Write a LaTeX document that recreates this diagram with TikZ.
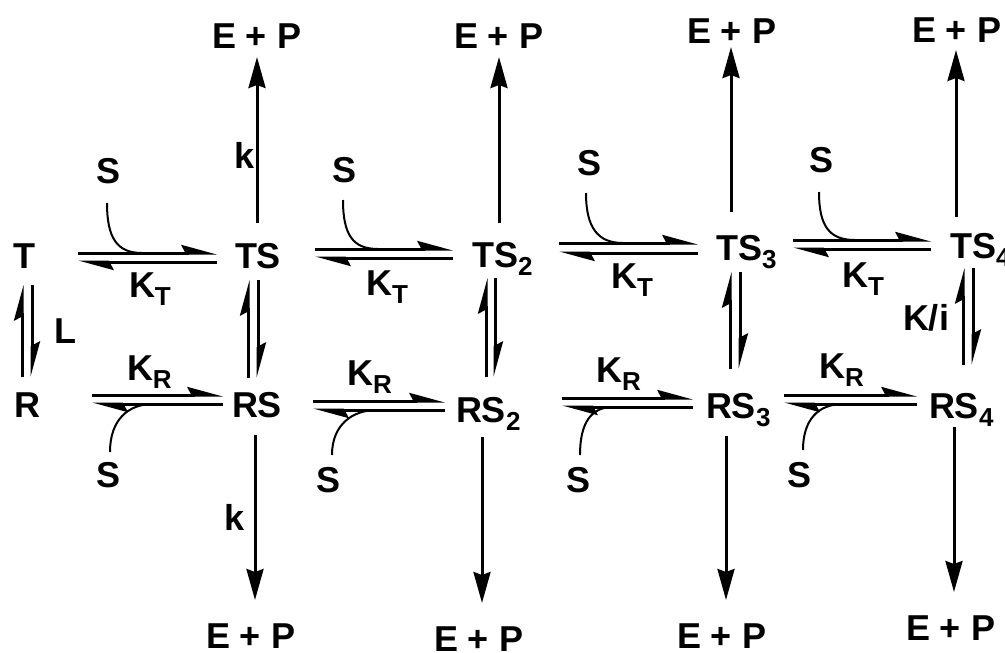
\documentclass[tikz,border=0pt]{standalone}
\usepackage{fontspec}
\setmainfont{Liberation Sans}
\usetikzlibrary{arrows.meta,calc}
\newcommand\mysub[1]{\raisebox{-8pt}{\fontsize{26}{30}\selectfont #1}}
\tikzset{
 lab/.style={inner sep=0pt, outer sep=0pt, text height=25pt, text depth=0pt, anchor=base west, font=\bfseries\fontsize{36}{40}\selectfont},
 prod/.style={line width=3pt, -{Stealth[length=31pt,width=17pt,inset=3pt]}},
 harp/.style={line width=3pt, -{Stealth[harpoon,length=30pt,width=16pt,inset=4pt]}},
 sarc/.style={line width=2pt},
}
\begin{document}
\begin{tikzpicture}[x=1pt,y=-1pt]
\useasboundingbox (0,0) rectangle (1005,653);
% species
\node[lab] (T) at (13,268) {T};
\node[lab] (TS) at (235,268) {TS};
\node[lab] (TS2) at (472,267) {TS\mysub{2}};
\node[lab] (TS3) at (716,260) {TS\mysub{3}};
\node[lab] (TS4) at (950,258) {TS\mysub{4}};
\node[lab] (R) at (14,417) {R};
\node[lab] (RS) at (232,417) {RS};
\node[lab] (RS2) at (456,422) {RS\mysub{2}};
\node[lab] (RS3) at (706,418) {RS\mysub{3}};
\node[lab] (RS4) at (929,418) {RS\mysub{4}};
% products
\node[lab] (EPt1) at (212,48) {E + P};
\node[lab] (EPt2) at (454,48) {E + P};
\node[lab] (EPt3) at (687,43) {E + P};
\node[lab] (EPt4) at (912,42) {E + P};
\node[lab] (EPb1) at (206,648) {E + P};
\node[lab] (EPb2) at (434,651) {E + P};
\node[lab] (EPb3) at (677,648) {E + P};
\node[lab] (EPb4) at (906,640) {E + P};
% labels
\node[lab] (k1) at (234,168) {k};
\node[lab] (k2) at (224,530) {k};
\node[lab] (L) at (54,343) {L};
\node[lab] (Ki) at (903,330) {K/i};
\node[lab] (KT1) at (129,297) {K\mysub{T}};
\node[lab] (KT2) at (366,295) {K\mysub{T}};
\node[lab] (KT3) at (611,288) {K\mysub{T}};
\node[lab] (KT4) at (842,287) {K\mysub{T}};
\node[lab] (KR1) at (127,380) {K\mysub{R}};
\node[lab] (KR2) at (347,385) {K\mysub{R}};
\node[lab] (KR3) at (596,382) {K\mysub{R}};
\node[lab] (KR4) at (819,378) {K\mysub{R}};
\node[lab] (S1) at (96,183) {S};
\node[lab] (S2) at (332,182) {S};
\node[lab] (S3) at (577,175) {S};
\node[lab] (S4) at (809,172) {S};
\node[lab] (S5) at (96,487) {S};
\node[lab] (S6) at (316,492) {S};
\node[lab] (S7) at (566,492) {S};
\node[lab] (S8) at (787,487) {S};
% horizontal equilibria, T row
\draw[harp] ($(T.base west)+(65,-15)$) -- ($(TS.base west)+(-18,-15)$);
\draw[harp] ($(TS.base west)+(-18,-6)$) -- ($(T.base west)+(65,-6)$);
\draw[harp] ($(TS.base west)+(80,-19)$) -- ($(TS2.base west)+(-19,-18)$);
\draw[harp] ($(TS2.base west)+(-19,-9)$) -- ($(TS.base west)+(80,-10)$);
\draw[harp] ($(TS2.base west)+(87,-24)$) -- ($(TS3.base west)+(-18,-17)$);
\draw[harp] ($(TS3.base west)+(-18,-7)$) -- ($(TS2.base west)+(87,-14)$);
\draw[harp] ($(TS3.base west)+(77,-20)$) -- ($(TS4.base west)+(-19,-18)$);
\draw[harp] ($(TS4.base west)+(-19,-9)$) -- ($(TS3.base west)+(77,-11)$);
% horizontal equilibria, R row
\draw[harp] ($(R.base west)+(78,-22)$) -- ($(RS.base west)+(-9,-22)$);
\draw[harp] ($(RS.base west)+(-9,-13)$) -- ($(R.base west)+(78,-13)$);
\draw[harp] ($(RS.base west)+(81,-16)$) -- ($(RS2.base west)+(-11,-21)$);
\draw[harp] ($(RS2.base west)+(-11,-12)$) -- ($(RS.base west)+(81,-7)$);
\draw[harp] ($(RS2.base west)+(106,-24)$) -- ($(RS3.base west)+(-13,-20)$);
\draw[harp] ($(RS3.base west)+(-13,-11)$) -- ($(RS2.base west)+(106,-15)$);
\draw[harp] ($(RS3.base west)+(78,-23)$) -- ($(RS4.base west)+(-12,-23)$);
\draw[harp] ($(RS4.base west)+(-12,-14)$) -- ($(RS3.base west)+(78,-14)$);
% vertical equilibria
\draw[harp] ($(R.base west)+(8,-40)$) -- ($(T.base west)+(9,17)$);
\draw[harp] ($(T.base west)+(19,17)$) -- ($(R.base west)+(18,-40)$);
\draw[harp] ($(RS.base west)+(16,-39)$) -- ($(TS.base west)+(13,12)$);
\draw[harp] ($(TS.base west)+(23,12)$) -- ($(RS.base west)+(26,-39)$);
\draw[harp] ($(RS2.base west)+(30,-45)$) -- ($(TS2.base west)+(14,11)$);
\draw[harp] ($(TS2.base west)+(23,11)$) -- ($(RS2.base west)+(39,-45)$);
\draw[harp] ($(RS3.base west)+(24,-49)$) -- ($(TS3.base west)+(14,12)$);
\draw[harp] ($(TS3.base west)+(24,12)$) -- ($(RS3.base west)+(34,-49)$);
\draw[harp] ($(RS4.base west)+(34,-53)$) -- ($(TS4.base west)+(13,10)$);
\draw[harp] ($(TS4.base west)+(23,10)$) -- ($(RS4.base west)+(44,-53)$);
% product arrows
\draw[prod] ($(TS.base west)+(22,-45)$) -- ($(EPt1.base west)+(45,9)$);
\draw[prod] ($(TS2.base west)+(27,-44)$) -- ($(EPt2.base west)+(45,9)$);
\draw[prod] ($(TS3.base west)+(15,-48)$) -- ($(EPt3.base west)+(44,4)$);
\draw[prod] ($(TS4.base west)+(6,-41)$) -- ($(EPt4.base west)+(44,8)$);
\draw[prod] ($(RS.base west)+(23,18)$) -- ($(EPb1.base west)+(49,-48)$);
\draw[prod] ($(RS2.base west)+(26,15)$) -- ($(EPb2.base west)+(48,-48)$);
\draw[prod] ($(RS3.base west)+(20,18)$) -- ($(EPb3.base west)+(49,-48)$);
\draw[prod] ($(RS4.base west)+(25,9)$) -- ($(EPb4.base west)+(48,-48)$);
% substrate curves
\draw[sarc] ($(S1.base west)+(11,20)$) .. controls +(0,35) and +(-25,0) .. ($(S1.base west)+(46,70)$);
\draw[sarc] ($(S2.base west)+(11,18)$) .. controls +(0,35) and +(-25,0) .. ($(S2.base west)+(46,67)$);
\draw[sarc] ($(S3.base west)+(9,18)$) .. controls +(0,35) and +(-25,0) .. ($(S3.base west)+(46,68)$);
\draw[sarc] ($(S4.base west)+(10,20)$) .. controls +(0,35) and +(-25,0) .. ($(S4.base west)+(46,68)$);
\draw[sarc] ($(S5.base west)+(14,-35)$) .. controls +(0,-32) and +(-25,0) .. ($(S5.base west)+(57,-83)$);
\draw[sarc] ($(S6.base west)+(16,-37)$) .. controls +(0,-30) and +(-25,0) .. ($(S6.base west)+(61,-82)$);
\draw[sarc] ($(S7.base west)+(14,-37)$) .. controls +(0,-32) and +(-22,0) .. ($(S7.base west)+(47,-85)$);
\draw[sarc] ($(S8.base west)+(16,-37)$) .. controls +(0,-30) and +(-25,0) .. ($(S8.base west)+(56,-83)$);
\end{tikzpicture}
\end{document}
